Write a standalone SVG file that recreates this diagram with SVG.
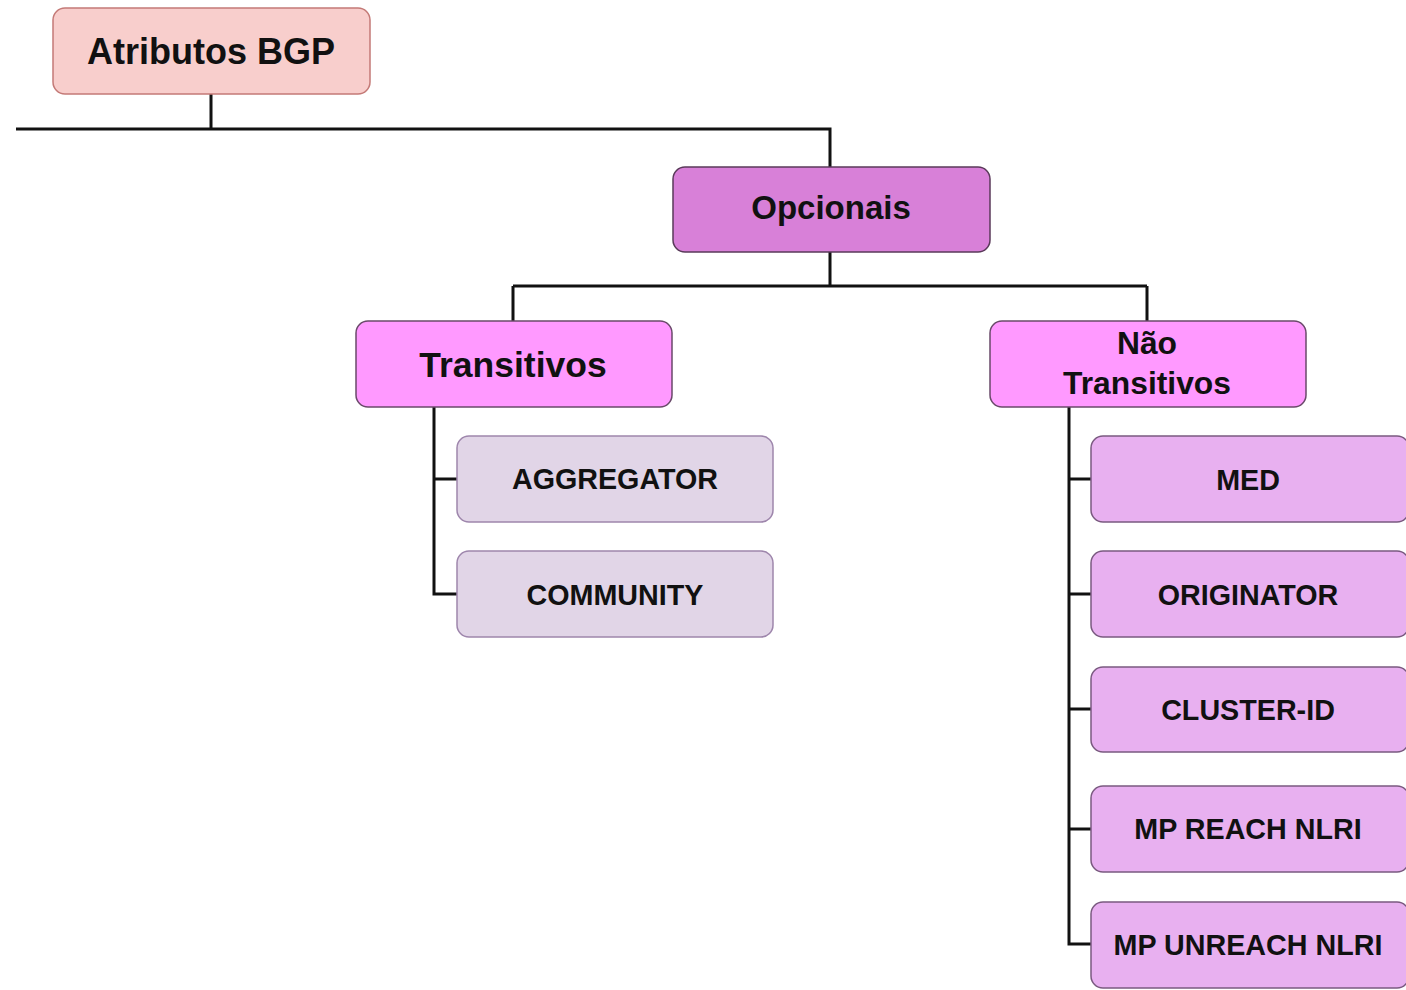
<svg xmlns="http://www.w3.org/2000/svg" width="1406" height="990" viewBox="0 0 1406 990">
<style>
text{font-family:"Liberation Sans",Arial,sans-serif;font-weight:bold;fill:#111;text-anchor:middle}
.conn{fill:none;stroke:#111;stroke-width:3}
.root{fill:#f8cecc;stroke:#c47a77;stroke-width:1.5}
.opc{fill:#d880d8;stroke:#5a3a5a;stroke-width:1.5}
.tr{fill:#ff99ff;stroke:#6a4a6a;stroke-width:1.5}
.lc{fill:#e1d5e7;stroke:#9e86ac;stroke-width:1.5}
.rc{fill:#e8b0f0;stroke:#7a5a80;stroke-width:1.5}
.t1{font-size:28.7px}
</style>
<g id="connectors">
<path class="conn" d="M211 94V129M16 129H830V167"/>
<path class="conn" d="M830 252V286M513 286H1147M513 286V321M1147 286V321"/>
<path class="conn" d="M434 407V594H457M434 479H457"/>
<path class="conn" d="M1069 407V944H1091M1069 479H1091M1069 594H1091M1069 709H1091M1069 829H1091"/>
</g>
<g id="atributos"><rect class="root" x="53" y="8" width="317" height="86" rx="12"/><text x="211" y="64" style="font-size:36px">Atributos BGP</text></g>
<g id="opcionais"><rect class="opc" x="673" y="167" width="317" height="85" rx="12"/><text x="831" y="219" style="font-size:33px">Opcionais</text></g>
<g id="transitivos"><rect class="tr" x="356" y="321" width="316" height="86" rx="12"/><text x="513" y="377" style="font-size:35.5px">Transitivos</text></g>
<g id="nao-transitivos"><rect class="tr" x="990" y="321" width="316" height="86" rx="12"/><text x="1147" y="354" style="font-size:31.8px">Não</text><text x="1147" y="394" style="font-size:31.8px">Transitivos</text></g>
<g id="aggregator"><rect class="lc" x="457" y="436" width="316" height="86" rx="12"/><text class="t1" x="615" y="489">AGGREGATOR</text></g>
<g id="community"><rect class="lc" x="457" y="551" width="316" height="86" rx="12"/><text class="t1" x="615" y="605">COMMUNITY</text></g>
<g id="med"><rect class="rc" x="1091" y="436" width="318" height="86" rx="12"/><text class="t1" x="1248" y="490">MED</text></g>
<g id="originator"><rect class="rc" x="1091" y="551" width="318" height="86" rx="12"/><text class="t1" x="1248" y="605">ORIGINATOR</text></g>
<g id="cluster-id"><rect class="rc" x="1091" y="667" width="318" height="85" rx="12"/><text class="t1" x="1248" y="720">CLUSTER-ID</text></g>
<g id="mp-reach"><rect class="rc" x="1091" y="786" width="318" height="86" rx="12"/><text class="t1" x="1248" y="839">MP REACH NLRI</text></g>
<g id="mp-unreach"><rect class="rc" x="1091" y="902" width="318" height="86" rx="12"/><text class="t1" x="1248" y="955">MP UNREACH NLRI</text></g>
</svg>
